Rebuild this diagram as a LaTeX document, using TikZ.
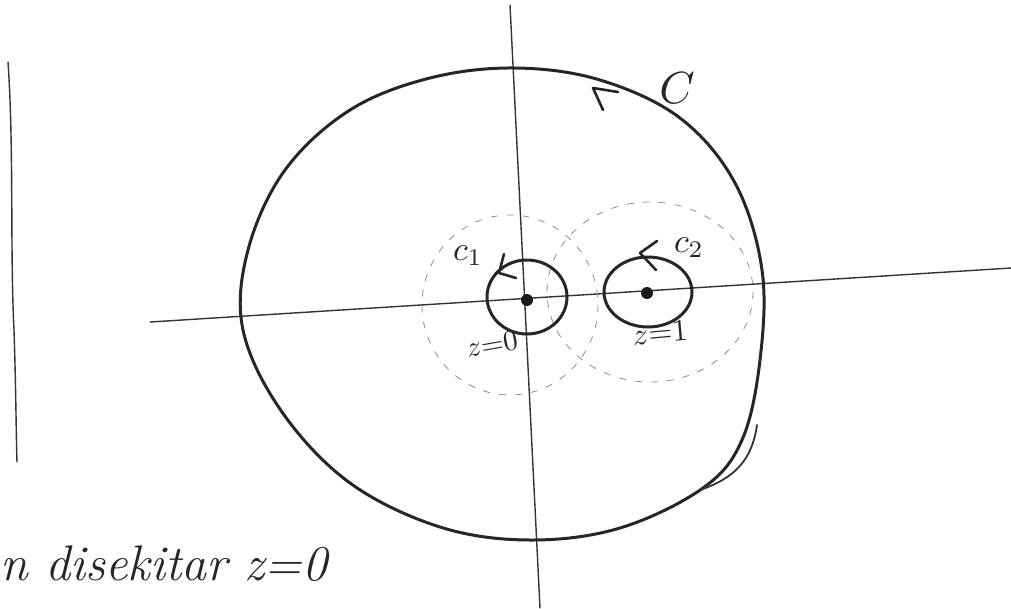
\documentclass[tikz,border=0pt]{standalone}
\usetikzlibrary{calc}
\begin{document}
\begin{tikzpicture}[x=1pt,y=-1pt,
  ink/.style={line width=3pt,draw=black!85,line cap=round,line join=round},
  axis/.style={line width=1.4pt,draw=black!80,line cap=round},
  guide/.style={line width=0.8pt,draw=black!45,dash pattern=on 7pt off 9pt},
  barb/.style={line width=2.6pt,draw=black!85,line cap=round,line join=round},
  pole/.style={circle,fill=black!90,inner sep=0pt,minimum size=12pt},
  lbl/.style={text=black!85,inner sep=1pt}]
\useasboundingbox (0,0) rectangle (1011,608);
% left margin line
\coordinate (m1) at (8,62); \coordinate (m2) at (17,462);
\draw[axis] (m1) .. controls (14,150) and (10,250) .. (14,330) .. controls (16,390) and (16,430) .. (m2);
% axes
\coordinate (xl) at (150,322); \coordinate (xr) at (1011,268);
\coordinate (yt) at (510,5); \coordinate (yb) at (540,608);
\draw[axis] (xl) -- (xr);
\draw[axis] (yt) -- (yb);
% dashed guide circles
\draw[guide] (510,305) ellipse [x radius=88, y radius=90];
\draw[guide] (650,292) ellipse [x radius=103, y radius=90];
% big contour C
\draw[ink] plot[smooth cycle,tension=0.6] coordinates {(515,68) (600,80) (680,118) (735,183) (762,270) (760,360) (742,440) (703,488) (620,528) (530,540) (440,527) (350,483) (282,412) (243,330) (248,250) (285,170) (350,110) (430,78)};
\draw[line width=1.8pt,draw=black!80,line cap=round] (757,425) .. controls (752,460) and (735,478) .. (700,490);
\draw[barb] (618,92) -- (593,88) -- (603,110);
\node[lbl] (C) at (677,88) {\scalebox{4.5}{$C$}};
% small contours
\draw[ink] (527,297) ellipse [x radius=40, y radius=37];
\draw[ink] (648,292) ellipse [x radius=44, y radius=35];
\node[pole] (z0) at (527,300) {};
\node[pole] (z1) at (647,293) {};
\draw[barb] (504,254) -- (499,273) -- (516,278);
\draw[barb] (657,241) -- (640,253) -- (656,270);
\node[lbl] (c1) at (468,256) {\scalebox{3.4}{$c_1$}};
\node[lbl] (c2) at (689,248) {\scalebox{3.4}{$c_2$}};
\node[lbl,rotate=10] (l0) at (492,344) {\scalebox{2.9}{$z{=}0$}};
\node[lbl,rotate=5] (l1) at (660,333) {\scalebox{3.1}{$z{=}1$}};
% bottom note
\node[font=\fontsize{50}{50}\selectfont\itshape,text=black!85,anchor=base west,inner sep=0pt] (note) at (0,580) {n disekitar z=0};
\end{tikzpicture}
\end{document}
